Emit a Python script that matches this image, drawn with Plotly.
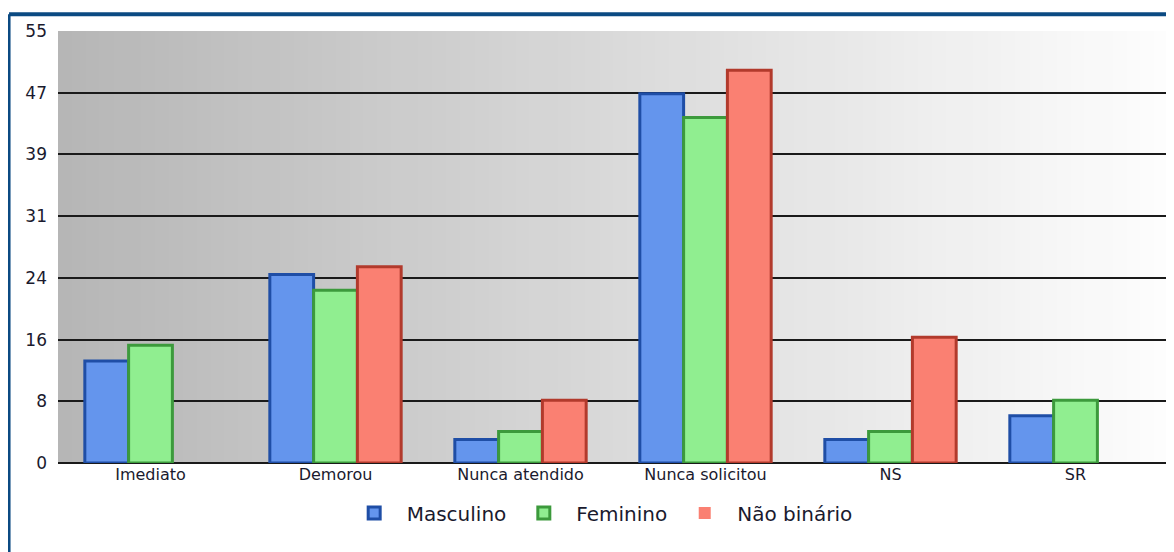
import plotly.graph_objects as go

categories = ["Imediato", "Demorou", "Nunca atendido", "Nunca solicitou", "NS", "SR"]
masculino = [13, 24, 3, 47, 3, 6]
feminino = [15, 22, 4, 44, 4, 8]
nao_binario = [0, 25, 8, 50, 16, 0]
y_tick_labels = ["0", "8", "16", "24", "31", "39", "47", "55"]
y_max = 55

n_int = len(y_tick_labels) - 1
tickvals = [y_max * i / n_int for i in range(n_int + 1)]

fig = go.Figure()
series = [
    ("Masculino", masculino, "#6495ED", "#1f4ea6"),
    ("Feminino", feminino, "#90EE90", "#3c9a3c"),
    ("Não binário", nao_binario, "#FA8072", "#b23a2c"),
]
for name, vals, fill, edge in series:
    fig.add_trace(go.Bar(
        x=categories, y=vals, name=name,
        marker=dict(color=fill,
                    line=dict(color=edge, width=[0 if v == 0 else 3 for v in vals])),
    ))

# gradient background
shapes = []
N = 80
for i in range(N):
    t = i / (N - 1)
    v = int(round(182 + (253 - 182) * t))
    shapes.append(dict(type="rect", xref="x domain", yref="y domain",
                       x0=i / N, x1=(i + 1) / N + 0.002, y0=0, y1=1,
                       fillcolor=f"rgb({v},{v},{v})", line=dict(width=0),
                       layer="below"))
# frame lines (blue)
shapes.append(dict(type="line", xref="paper", yref="paper",
                   x0=-0.0441, x1=1.02, y0=1.039, y1=1.039,
                   line=dict(color="#0b4a82", width=4)))
shapes.append(dict(type="line", xref="paper", yref="paper",
                   x0=-0.0441, x1=-0.0441, y0=1.039, y1=-0.3,
                   line=dict(color="#0b4a82", width=3)))

fig.update_layout(
    width=1166, height=544,
    margin=dict(l=50, r=6, t=23, b=89),
    paper_bgcolor="white",
    plot_bgcolor="rgba(0,0,0,0)",
    barmode="group",
    bargap=0.29, bargroupgap=0,
    shapes=shapes,
    font=dict(family="DejaVu Sans", color="#1a1a2e"),
    showlegend=True,
    legend=dict(orientation="h", x=0.488, xanchor="center", y=-0.1157, yanchor="middle",
                font=dict(size=20, color="#1a1a2e"), itemwidth=55,
                bgcolor="rgba(0,0,0,0)"),
    xaxis=dict(showgrid=False, showline=False, ticks="",
               tickfont=dict(size=16, color="#1a1a2e")),
    yaxis=dict(range=[0, y_max], tickvals=tickvals, ticktext=y_tick_labels,
               showgrid=True, gridcolor="#1a1a1a", gridwidth=2,
               zeroline=True, zerolinecolor="#1a1a1a", zerolinewidth=2,
               showline=False, ticks="", ticklabelstandoff=10,
               tickfont=dict(size=17, color="#1a1a2e")),
)

fig.write_html("out.html")
